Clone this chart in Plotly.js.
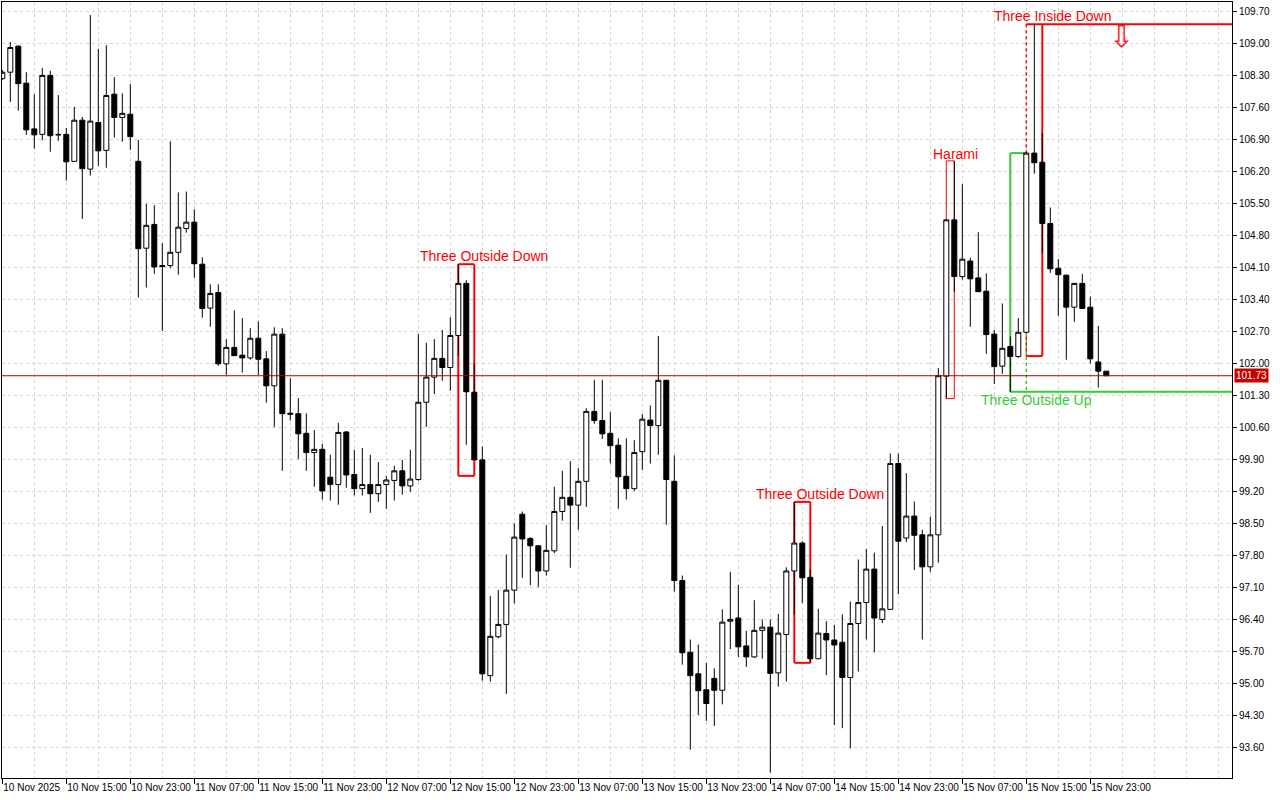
<!DOCTYPE html>
<html><head><meta charset="utf-8">
<script src="https://cdn.plot.ly/plotly-3.0.1.min.js"></script>
<style>html,body{margin:0;padding:0;background:#fff;}#chart{width:1280px;height:800px;}</style>
</head><body><div id="chart"></div>
<script>
// Hourly bars, 10 Nov 2025 07:00 -> 16 Nov 2025 01:00 (bar index 0..138)
const openPrices = [
108.23,108.37,108.94,108.13,107.13,107.01,108.30,107.01,107.01,106.42,
107.32,106.25,107.27,106.66,107.89,107.38,107.45,106.42,104.52,105.04,
104.14,104.14,104.43,104.95,105.09,104.17,103.21,103.55,101.99,102.35,
102.18,102.12,102.55,102.10,101.51,102.64,100.91,100.90,100.47,100.05,
100.12,99.51,99.35,100.50,99.57,99.26,99.35,99.15,99.35,99.44,
99.65,99.32,99.46,101.15,101.70,102.11,101.91,102.61,103.75,101.37,
99.89,95.17,96.02,96.29,97.04,98.70,98.17,98.01,97.46,97.90,
98.76,99.07,98.90,99.42,100.95,100.75,100.47,100.21,99.53,99.26,
100.07,100.76,100.64,101.63,99.42,97.25,95.68,95.21,94.86,95.11,
94.85,96.36,96.43,95.82,95.58,96.16,96.23,95.23,96.07,97.46,
98.07,97.32,95.54,96.09,95.95,95.90,95.13,96.31,96.77,97.50,
96.40,96.62,99.81,98.18,98.66,98.25,97.55,98.25,101.72,105.14,
103.90,104.24,103.87,103.58,102.64,101.94,102.37,102.15,102.68,106.60,
106.40,105.06,104.08,103.93,103.23,103.75,103.23,102.03,101.83];
const closePrices = [
108.37,108.91,108.12,107.11,107.00,108.30,106.98,107.00,106.41,107.32,
106.26,107.30,106.65,107.86,107.38,107.47,106.96,104.51,105.02,104.11,
104.12,104.43,104.98,105.09,104.18,103.20,103.53,101.99,102.35,102.17,
102.12,102.55,102.09,101.51,102.64,100.90,100.89,100.46,100.05,100.12,
99.21,99.35,100.49,99.56,99.26,99.35,99.15,99.35,99.45,99.65,
99.32,99.47,101.15,101.70,102.11,101.91,102.61,103.75,101.38,99.89,
95.21,96.03,96.29,97.04,98.20,98.16,98.01,97.46,97.91,98.76,
99.07,98.90,99.42,100.95,100.75,100.46,100.20,99.52,99.26,100.05,
100.78,100.64,101.63,99.46,97.25,95.67,95.17,94.84,94.56,94.85,
96.34,96.40,95.80,95.58,96.16,96.23,95.22,96.10,97.46,98.07,
97.31,95.54,96.10,95.95,95.84,95.13,96.31,96.77,97.50,96.43,
96.63,99.81,98.11,98.66,98.24,97.55,98.25,101.73,105.14,103.90,
104.28,103.85,103.57,102.63,101.93,102.33,102.15,102.68,106.60,106.39,
105.06,104.07,103.94,103.23,103.75,103.20,102.10,101.83,101.73];
const highPrices = [
108.42,109.03,108.96,108.37,107.89,108.46,108.40,107.87,107.15,107.61,
107.39,109.62,108.88,108.96,108.26,107.91,108.11,106.89,105.49,105.46,
104.63,106.86,105.74,105.76,105.37,104.32,103.73,103.73,102.53,103.16,
102.99,102.77,102.92,102.27,102.79,102.77,101.68,101.24,100.91,100.54,
100.24,100.00,100.70,100.52,100.11,100.15,100.00,99.84,99.54,99.76,
99.89,100.11,102.64,102.45,102.53,102.73,103.01,104.17,103.82,102.00,
100.18,96.91,97.04,97.82,98.50,98.76,98.20,98.02,98.46,99.30,
99.65,99.86,99.71,101.02,101.64,101.64,100.94,100.36,100.36,100.32,
100.89,101.08,102.60,101.64,99.99,97.36,95.96,95.85,95.45,95.33,
96.62,97.44,97.15,96.15,96.82,96.40,96.40,96.52,97.54,98.97,
98.11,97.50,96.63,96.36,96.28,96.51,96.79,97.71,97.94,97.86,
98.44,100.03,100.03,99.60,98.98,98.36,98.65,101.90,105.16,106.43,
105.92,104.31,104.87,103.97,102.73,103.31,102.59,102.99,106.62,109.42,
107.04,105.41,104.28,103.94,103.76,103.96,103.46,102.82,101.83];
const lowPrices = [
108.20,107.72,107.53,107.00,106.70,106.88,106.63,106.87,106.00,106.42,
105.16,106.11,106.32,106.28,106.94,106.85,106.67,103.44,103.66,103.96,
102.71,104.08,103.94,104.86,103.87,103.00,102.80,101.95,101.75,102.17,
101.80,102.08,101.75,101.14,100.61,99.65,100.75,99.91,99.65,99.30,
99.02,99.00,98.91,99.28,99.11,99.11,98.73,98.97,98.82,99.00,
99.13,99.19,99.43,100.61,101.33,101.62,101.40,102.16,100.22,99.89,
95.06,95.04,95.99,94.77,96.75,97.31,97.15,97.11,97.36,97.85,
98.56,97.53,98.36,98.86,100.68,100.35,99.81,98.82,99.02,99.21,
99.67,99.81,100.00,98.47,97.01,95.41,93.55,94.31,94.18,94.07,
94.54,95.75,95.58,95.36,95.56,95.54,93.05,94.93,95.04,96.50,
96.76,95.45,95.53,95.18,94.09,94.02,93.58,95.26,95.96,95.68,
96.32,96.61,96.95,98.09,97.48,95.96,97.44,97.64,101.23,103.57,
103.83,102.80,103.56,102.21,101.55,101.77,101.37,102.12,102.66,106.15,
104.42,103.98,103.04,102.08,102.91,103.19,102.00,101.47,101.73];

const xTickIndex = [0,8,16,24,32,40,48,56,64,72,80,88,96,104,112,120,128,136];
const xTickLabels = ['10 Nov 2025','10 Nov 15:00','10 Nov 23:00','11 Nov 07:00','11 Nov 15:00',
  '11 Nov 23:00','12 Nov 07:00','12 Nov 15:00','12 Nov 23:00','13 Nov 07:00','13 Nov 15:00',
  '13 Nov 23:00','14 Nov 07:00','14 Nov 15:00','14 Nov 23:00','15 Nov 07:00','15 Nov 15:00','15 Nov 23:00'];
const yTickValues = [93.60,94.30,95.00,95.70,96.40,97.10,97.80,98.50,99.20,99.90,100.60,101.30,
  102.00,102.70,103.40,104.10,104.80,105.50,106.20,106.90,107.60,108.30,109.00,109.70];
const lastPrice = 101.73;

// Candlestick pattern boxes (bar index range and price range)
const patternNames = ['Three Outside Down','Three Outside Down','Harami','Three Outside Up','Three Inside Down'];
const patternStart = [57, 99, 118, 126, 128];
const patternEnd   = [59, 101, 119, 128, 130];
const patternHigh  = [104.17, 98.97, 106.43, 106.60, 109.42];
const patternLow   = [99.54, 95.45, 101.23, 101.38, 102.16];
const patternColor = ['#ff0000','#ff0000','#ff0000','#32cd32','#ff0000'];
const labelIndex   = [60.2, 102.2, 119.2, 129.3, 131.3];
const labelPrice   = [104.35, 99.14, 106.58, 101.20, 109.60];
const signalIndex = 139.96, signalPrice = 109.15;

const X_MAX = 153.7125;
const barIndex = openPrices.map((_, i) => i);

const trace = {
  type: 'candlestick', x: barIndex,
  open: openPrices, high: highPrices, low: lowPrices, close: closePrices,
  increasing: {line: {color: '#000000', width: 1}, fillcolor: '#ffffff'},
  decreasing: {line: {color: '#000000', width: 1}, fillcolor: '#000000'},
  whiskerwidth: 0, hoverinfo: 'skip', showlegend: false
};

const shapes = [];
const annotations = [];
function seg(x0, y0, x1, y1, color, width, dash) {
  shapes.push({type: 'line', xref: 'x', yref: 'y', x0, y0, x1, y1, layer: 'between',
    line: {color, width, dash: dash || 'solid'}});
}
for (let i = 0; i < patternNames.length; i++) {
  const c = patternColor[i], s = patternStart[i], e = patternEnd[i], h = patternHigh[i], l = patternLow[i];
  const w = patternNames[i] === 'Harami' ? 1 : 2;
  if (patternNames[i] === 'Three Inside Down') {
    seg(s, h, X_MAX, h, c, w);
    seg(e, h, e, l, c, w);
    seg(s, l, e, l, c, w);
    seg(s, h, s, l, c, 1.5, '3px,3px');
  } else if (patternNames[i] === 'Three Outside Up') {
    seg(s, h, e, h, c, w);
    seg(s, h, s, l, c, w);
    seg(s, l, X_MAX, l, c, w);
    seg(e, h, e, l, c, 1.5, '3px,3px');
  } else {
    seg(s, h, e, h, c, w);
    seg(e, h, e, l, c, w);
    seg(s, l, e, l, c, w);
    seg(s, h, s, l, c, w);
  }
  annotations.push({xref: 'x', yref: 'y', x: labelIndex[i], y: labelPrice[i], text: patternNames[i],
    showarrow: false, xanchor: 'center', yanchor: 'middle',
    font: {family: 'Liberation Sans, Arial, sans-serif', size: 14, color: c}});
}
// current price line
shapes.push({type: 'line', xref: 'paper', yref: 'y', x0: 0, x1: 1, y0: lastPrice, y1: lastPrice,
  layer: 'above', line: {color: '#b00000', width: 1}});
annotations.push({xref: 'paper', yref: 'y', x: 1, xshift: 2, y: lastPrice, xanchor: 'left', yanchor: 'middle',
  text: lastPrice.toFixed(2), showarrow: false, bgcolor: '#c80000', borderpad: 1,
  font: {family: 'Liberation Sans, Arial, sans-serif', size: 10, color: '#ffffff'}});
// sell signal arrow
annotations.push({xref: 'x', yref: 'y', x: signalIndex, y: signalPrice, text: '\u21E9', showarrow: false,
  xanchor: 'center', yanchor: 'middle', font: {family: 'DejaVu Sans', size: 30, color: '#ff2020'}});

const gridStyle = {gridcolor: '#d4d4d4', griddash: '3px,3px', gridwidth: 1};
const layout = {
  width: 1280, height: 800,
  margin: {l: 2, r: 48, t: 2, b: 22, pad: 0},
  paper_bgcolor: '#ffffff', plot_bgcolor: '#ffffff',
  showlegend: false, boxgap: 0.375, boxgroupgap: 0,
  xaxis: Object.assign({
    range: [-0.0375, X_MAX], rangeslider: {visible: false}, fixedrange: true,
    tickmode: 'array', tickvals: xTickIndex, ticktext: xTickLabels, tickangle: 0,
    ticks: 'outside', ticklen: 5, tickcolor: '#000', tickwidth: 1,
    ticklabelposition: 'outside right', automargin: false,
    showgrid: true,
    minor: Object.assign({tickmode: 'linear', tick0: 0, dtick: 4, showgrid: true, ticks: ''}, gridStyle),
    showline: true, linecolor: '#000', linewidth: 1, mirror: true, zeroline: false,
    tickfont: {family: 'Liberation Sans, Arial, sans-serif', size: 10, color: '#000'}
  }, gridStyle),
  yaxis: Object.assign({
    side: 'right', range: [92.9306, 109.9056], fixedrange: true, automargin: false,
    tickmode: 'array', tickvals: yTickValues, ticktext: yTickValues.map(v => v.toFixed(2)),
    ticks: 'outside', ticklen: 4, tickcolor: '#000', tickwidth: 1,
    showgrid: true,
    showline: true, linecolor: '#000', linewidth: 1, mirror: true, zeroline: false,
    tickfont: {family: 'Liberation Sans, Arial, sans-serif', size: 10, color: '#000'}
  }, gridStyle),
  shapes, annotations
};
Plotly.newPlot('chart', [trace], layout, {displayModeBar: false, staticPlot: true});
</script>
</body></html>
